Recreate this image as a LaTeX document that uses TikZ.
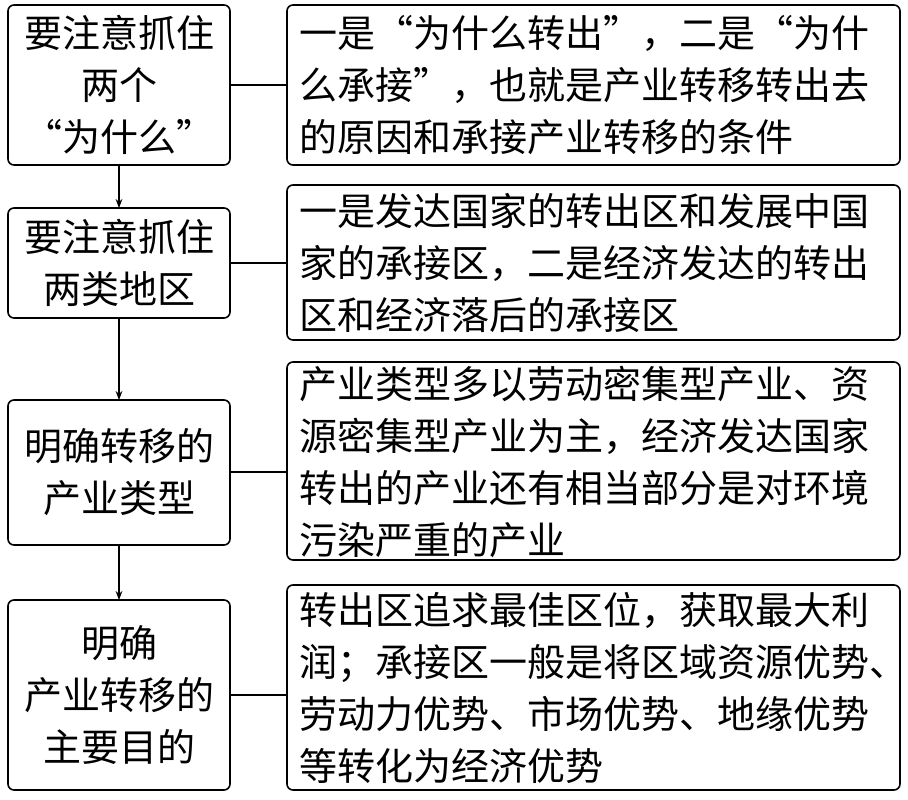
\documentclass[tikz,border=0pt]{standalone}
\usepackage{fontspec}
\setmainfont{Noto Sans CJK SC}
\usetikzlibrary{arrows.meta}
\begin{document}
\begin{tikzpicture}[x=1pt,y=-1pt,
 box/.style={draw,line width=1.6pt,rounded corners=6pt},
 lt/.style={font=\fontsize{38}{52}\selectfont,align=center},
 rt/.style={font=\fontsize{38}{52}\selectfont,align=left,anchor=west}]
\useasboundingbox (0,0) rectangle (908,800);
% left boxes
\draw[box] (8,5) rectangle (230,165); \coordinate (L1r) at (230,85);
\node[lt] (l1) at (119,85) {要注意抓住\\两个\\“为什么”};
\draw[box] (8,208) rectangle (230,318); \coordinate (L2r) at (230,263);
\node[lt] (l2) at (119,263) {要注意抓住\\两类地区};
\draw[box] (8,400) rectangle (230,545); \coordinate (L3r) at (230,472);
\node[lt] (l3) at (119,472) {明确转移的\\产业类型};
\draw[box] (8,600) rectangle (230,790); \coordinate (L4r) at (230,695);
\node[lt] (l4) at (119,695) {明确\\产业转移的\\主要目的};
% right boxes
\draw[box] (287,5) rectangle (900,165); \coordinate (R1) at (287,85);
\node[rt] (r1) at (296,85) {一是“为什么转出”，二是“为什\\么承接”，也就是产业转移转出去\\的原因和承接产业转移的条件};
\draw[box] (287,185) rectangle (900,340); \coordinate (R2) at (287,263);
\node[rt] (r2) at (296,263) {一是发达国家的转出区和发展中国\\家的承接区，二是经济发达的转出\\区和经济落后的承接区};
\draw[box] (287,362) rectangle (900,560); \coordinate (R3) at (287,472);
\node[rt] (r3) at (296,462) {产业类型多以劳动密集型产业、资\\源密集型产业为主，经济发达国家\\转出的产业还有相当部分是对环境\\污染严重的产业};
\draw[box] (287,585) rectangle (900,790); \coordinate (R4) at (287,695);
\node[rt] (r4) at (296,688) {转出区追求最佳区位，获取最大利\\润；承接区一般是将区域资源优势、\\劳动力优势、市场优势、地缘优势\\等转化为经济优势};
% connectors
\draw[line width=1.4pt] (L1r) -- (R1);
\draw[line width=1.4pt] (L2r) -- (R2);
\draw[line width=1.4pt] (L3r) -- (R3);
\draw[line width=1.4pt] (L4r) -- (R4);
\coordinate (a1) at (119,165); \coordinate (b1) at (119,208);
\coordinate (a2) at (119,318); \coordinate (b2) at (119,400);
\coordinate (a3) at (119,545); \coordinate (b3) at (119,600);
\draw[line width=1.4pt,-{Stealth[length=9pt]}] (a1) -- (b1);
\draw[line width=1.4pt,-{Stealth[length=9pt]}] (a2) -- (b2);
\draw[line width=1.4pt,-{Stealth[length=9pt]}] (a3) -- (b3);
\end{tikzpicture}
\end{document}
